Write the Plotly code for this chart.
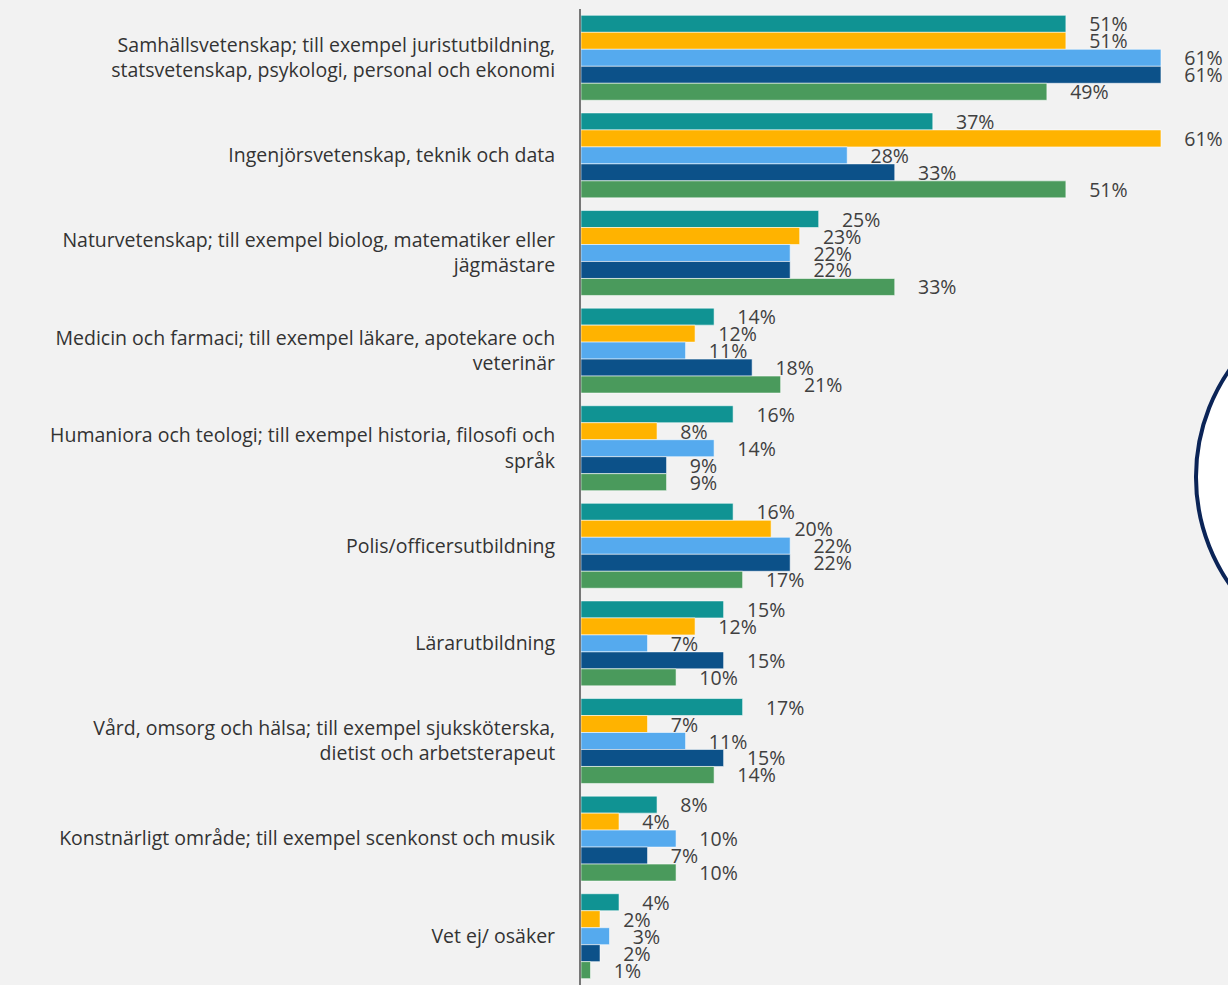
import plotly.graph_objects as go

categories = [
    "Samhällsvetenskap; till exempel juristutbildning,<br>statsvetenskap, psykologi, personal och ekonomi",
    "Ingenjörsvetenskap, teknik och data",
    "Naturvetenskap; till exempel biolog, matematiker eller<br>jägmästare",
    "Medicin och farmaci; till exempel läkare, apotekare och<br>veterinär",
    "Humaniora och teologi; till exempel historia, filosofi och<br>språk",
    "Polis/officersutbildning",
    "Lärarutbildning",
    "Vård, omsorg och hälsa; till exempel sjuksköterska,<br>dietist och arbetsterapeut",
    "Konstnärligt område; till exempel scenkonst och musik",
    "Vet ej/ osäker",
]

series_names = ["Serie 1", "Serie 2", "Serie 3", "Serie 4", "Serie 5"]
s1 = [51, 37, 25, 14, 16, 16, 15, 17, 8, 4]
s2 = [51, 61, 23, 12, 8, 20, 12, 7, 4, 2]
s3 = [61, 28, 22, 11, 14, 22, 7, 11, 10, 3]
s4 = [61, 33, 22, 18, 9, 22, 15, 15, 7, 2]
s5 = [49, 51, 33, 21, 9, 17, 10, 14, 10, 1]
series_values = [s1, s2, s3, s4, s5]
colors = ["#109393", "#FFB300", "#55AAEE", "#0C5189", "#4A9A5C"]

FONT = "Open Sans, Lato, sans-serif"

fig = go.Figure()
for name, vals, col in zip(series_names, series_values, colors):
    fig.add_trace(go.Bar(
        y=categories, x=vals, name=name, orientation="h",
        marker=dict(color=col, line=dict(color="rgba(255,255,255,0.55)", width=1)),
        text=[f"\u00a0\u00a0\u00a0\u00a0{v}%" for v in vals],
        textposition="outside", cliponaxis=False, constraintext="none",
        textfont=dict(family=FONT, size=19.5, color="#404040"),
        hoverinfo="x+y",
    ))

fig.update_layout(
    width=1228, height=985,
    margin=dict(l=581, r=0, t=9, b=0),
    paper_bgcolor="#F2F2F2", plot_bgcolor="#F2F2F2",
    barmode="group", bargap=0.13, bargroupgap=0,
    showlegend=False,
    xaxis=dict(range=[0, 68.05], showgrid=False, zeroline=False, showticklabels=False,
               showline=False, fixedrange=True),
    yaxis=dict(autorange="reversed", showgrid=False, zeroline=False,
               showline=True, linecolor="#777777", linewidth=2, ticks="",
               ticklabelstandoff=20,
               tickfont=dict(family=FONT, size=19.5, color="#333333")),
    shapes=[dict(type="circle", xref="paper", yref="paper",
                 x0=0.9505, x1=1.5317, y0=0.3279, y1=0.7131,
                 fillcolor="white", line=dict(color="#0B2457", width=4), layer="above")],
)

fig.write_html("out.html", config={"displayModeBar": False},
               post_script="document.body.style.margin='0';document.body.style.overflow='hidden';")
